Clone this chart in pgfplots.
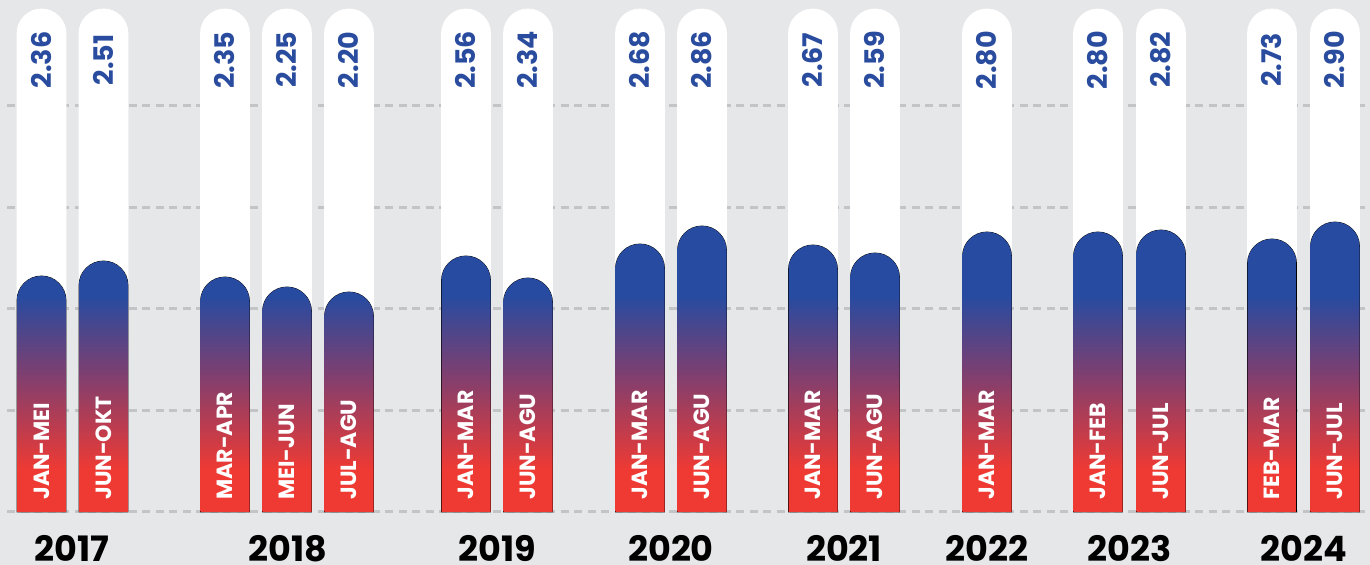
\documentclass[border=0pt]{standalone}
\usepackage{pgfplots}
\usepackage{pgfplotstable}
\pgfplotsset{compat=1.18}
\usepackage{fontspec}
\setmainfont{Poppins}
\definecolor{bggray}{HTML}{E6E7E9}
\definecolor{gridgray}{HTML}{C3C4C6}
\definecolor{barblue}{HTML}{274BA0}
\definecolor{barred}{HTML}{EF3A33}
\definecolor{barmid}{HTML}{7E3F70}
\definecolor{txtblue}{HTML}{2A4C9F}

% absolute gradient over the value range 0..3 (mapped to 25bp..75bp)
\pgfdeclareverticalshading{barsh}{100bp}{color(0bp)=(barred); color(32bp)=(barred); color(48bp)=(barmid); color(61bp)=(barblue); color(100bp)=(barblue)}

\pgfdeclareplotmark{empty}{}

\pgfplotstableread{
x v lab
41.5 2.36 JAN-MEI
103.5 2.51 JUN-OKT
225 2.35 MAR-APR
287 2.25 MEI-JUN
349 2.20 JUL-AGU
466 2.56 JAN-MAR
528 2.34 JUN-AGU
640 2.68 JAN-MAR
702 2.86 JUN-AGU
813 2.67 JAN-MAR
875 2.59 JUN-AGU
987 2.80 JAN-MAR
1098 2.80 JAN-FEB
1161 2.82 JUN-JUL
1272 2.73 FEB-MAR
1335 2.90 JUN-JUL
}\bars

\pgfplotstableread{
x lab
72 2017
288 2018
497 2019
671 2020
844 2021
987 2022
1129.5 2023
1303.5 2024
}\years

\pgfplotsset{
  pillstyle/.style={scatter, only marks, mark=empty,
    scatter/@pre marker code/.code={%
      \pgfmathsetlengthmacro\hh{5.03*50pt}%
      \fill[white] (-12.25pt,-\hh) -- (-12.25pt,-12.25pt) arc[start angle=180,end angle=0,radius=12.25pt] -- (12.25pt,-\hh) -- cycle;
    },
    scatter/@post marker code/.code={}},
  barstyle/.style={scatter, only marks, mark=empty,
    visualization depends on={\thisrow{v} \as \yval},
    scatter/@pre marker code/.code={%
      \pgfmathsetlengthmacro\hh{\yval*50pt}%
      \pgfmathsetlengthmacro\yt{(3-\yval)*50pt}%
      \begin{scope}
        \clip (-12.25pt,-\hh) -- (-12.25pt,-12.25pt) arc[start angle=180,end angle=0,radius=12.25pt] -- (12.25pt,-\hh) -- cycle;
        \shade[shading=barsh] (-13pt,-\hh) rectangle (13pt,\yt);
      \end{scope}
    },
    scatter/@post marker code/.code={}},
  gridl/.style={gridgray, line width=1.5pt, dash pattern=on 4pt off 2.75pt, forget plot}
}

\begin{document}
\begin{tikzpicture}
\path[use as bounding box] (0,0) rectangle (685pt,282.5pt);
\fill[bggray] (0,0) rectangle (685pt,282.5pt);
\begin{axis}[at={(0,0)}, anchor=south west, scale only axis,
  width=685pt, height=282.5pt, xmin=0, xmax=1370, ymin=-0.53, ymax=5.12,
  axis lines=none, clip=false]
\addplot[pillstyle] table[x=x, y expr=5.03] {\bars};
\addplot[gridl] coordinates {(7,0) (1370,0)};
\addplot[gridl] coordinates {(7,1.015) (1370,1.015)};
\addplot[gridl] coordinates {(7,2.03) (1370,2.03)};
\addplot[gridl] coordinates {(7,3.045) (1370,3.045)};
\addplot[gridl] coordinates {(7,4.06) (1370,4.06)};
\addplot[barstyle] table[x=x, y=v] {\bars};
\addplot[only marks, mark=empty, point meta=explicit symbolic, nodes near coords,
  nodes near coords style={rotate=90, anchor=center, inner sep=0pt, text=txtblue,
    font=\fontsize{13.5}{14}\selectfont\bfseries}]
  table[x=x, y expr=4.52, meta=v] {\bars};
\addplot[only marks, mark=empty, point meta=explicit symbolic, nodes near coords,
  nodes near coords style={rotate=90, anchor=west, inner sep=0pt, text=white,
    font=\fontsize{11}{12}\selectfont\bfseries}]
  table[x=x, y expr=0.12, meta=lab] {\bars};
\addplot[only marks, mark=empty, point meta=explicit symbolic, nodes near coords,
  nodes near coords style={anchor=center, inner sep=0pt, text=black,
    font=\fontsize{17.5}{18}\selectfont\bfseries}]
  table[x=x, y expr=-0.365, meta=lab] {\years};
\end{axis}
\end{tikzpicture}
\end{document}
